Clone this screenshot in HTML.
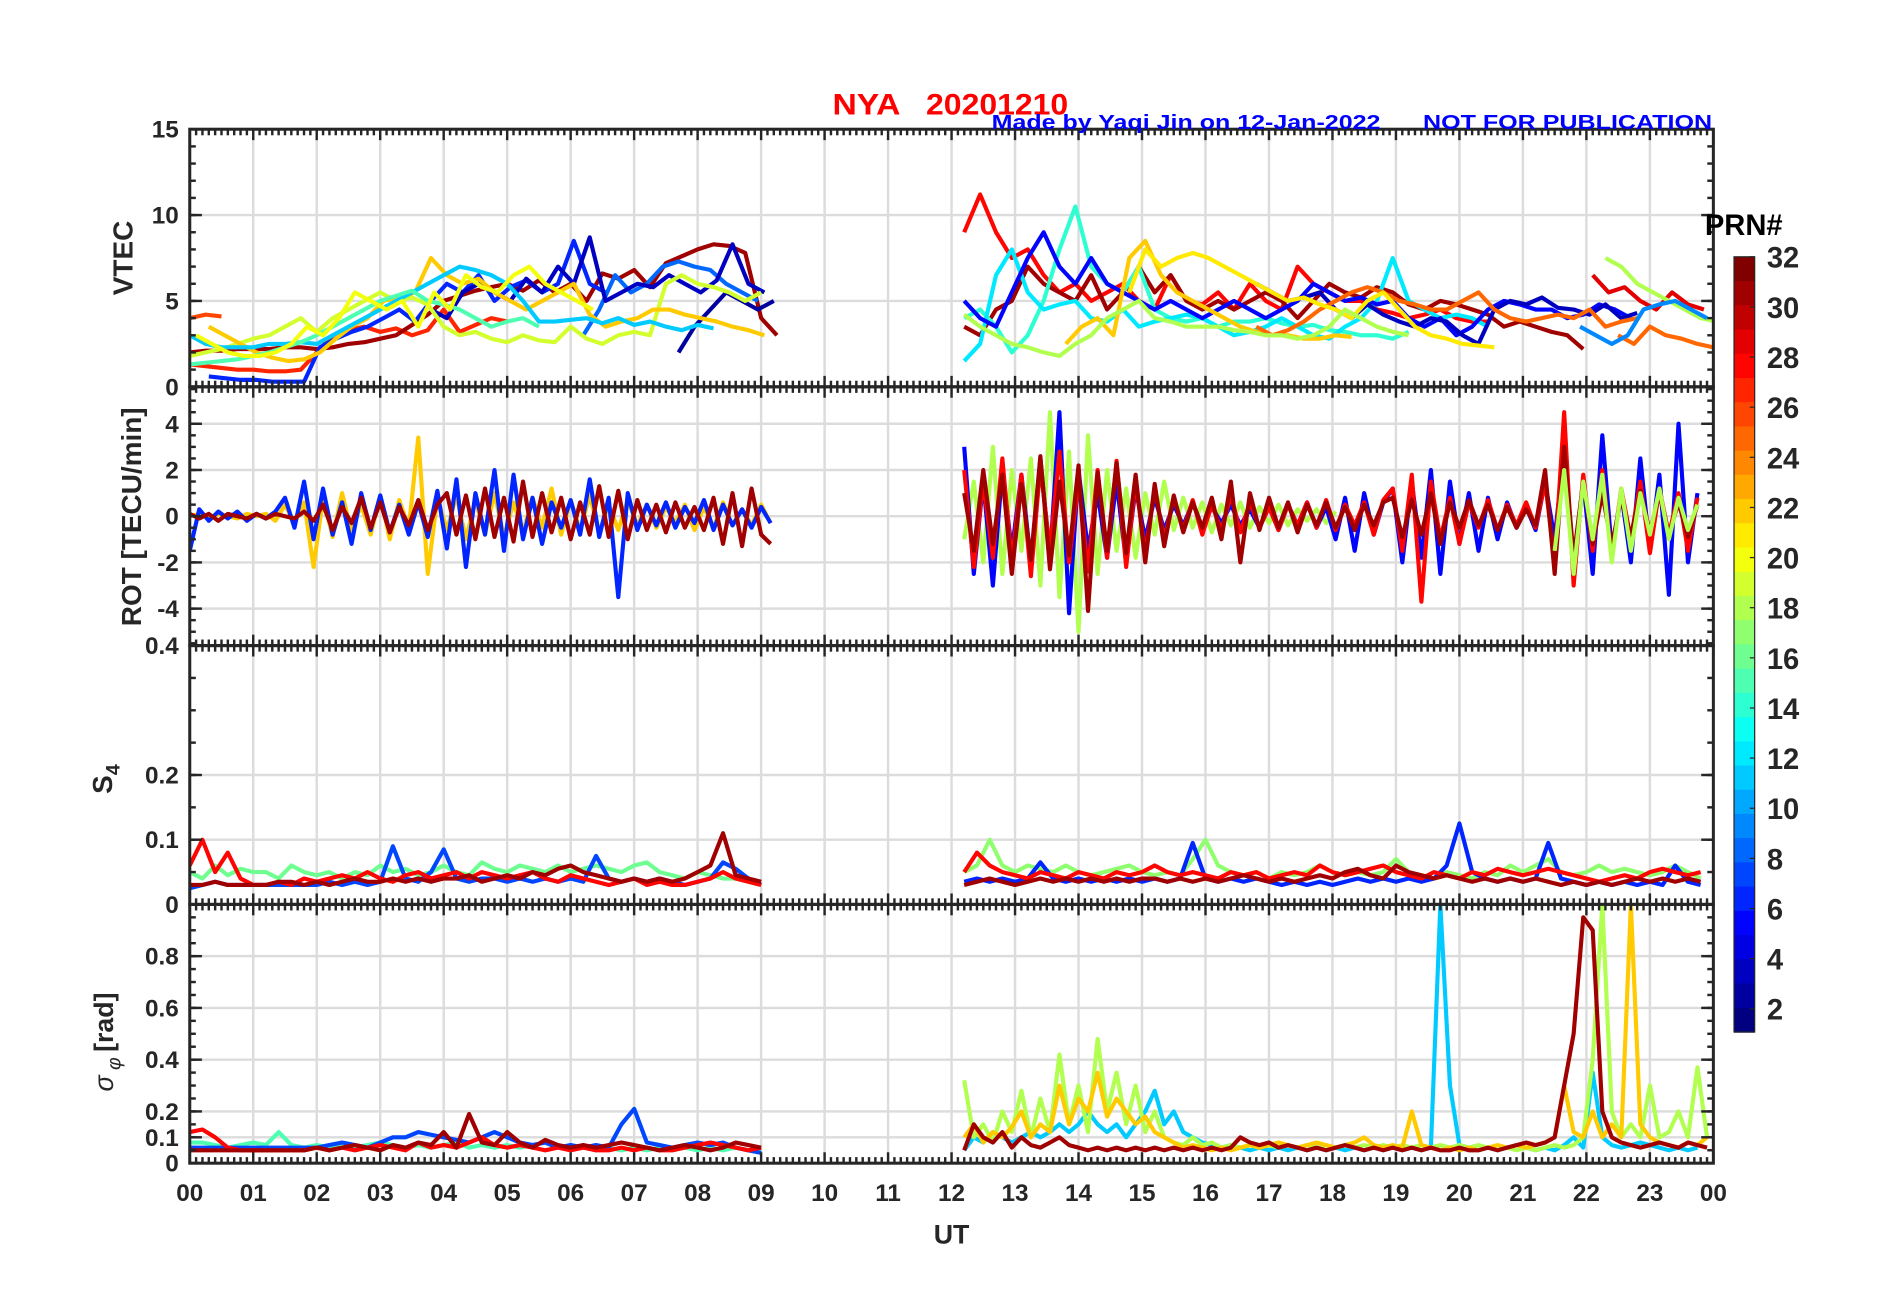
<!DOCTYPE html>
<html><head><meta charset="utf-8"><style>
html,body{margin:0;padding:0;background:#fff;}
svg{display:block;font-family:"Liberation Sans",Arial,sans-serif;font-weight:bold;}
</style></head><body>
<svg id="chart" width="1902" height="1292" xmlns="http://www.w3.org/2000/svg">
<g id="root" transform="translate(-1,-2) scale(1.215)"></g>
</svg>
<script>
// ---------- DATA ----------
const hourTicks = ["00","01","02","03","04","05","06","07","08","09","10","11","12","13","14","15","16","17","18","19","20","21","22","23","00"];
const cbarTicks = [2,4,6,8,10,12,14,16,18,20,22,24,26,28,30,32];
// VTEC series: prn, start hour, step hour, values
const vtecPrn   = [27,26,31,6,8,3,2,19,22,11,15,20, 28,31,29,14,12,5,3,22,25,25,21,18,18,9];
const vtecStart = [0,0,0,0.3,6.2,3.8,7.7,0,0.3,0,0,0.1, 12.2,12.2,22.1,12.2,12.2,12.2,16.8,13.8,16.8,22.5,14.8,12.2,22.3,21.9];
const vtecStep  = 0.25;
const vtecValues = [
 [1.3,1.2,1.1,1.0,1.0,0.9,0.9,1.0,2.0,3.0,3.3,3.5,3.2,3.4,3.0,3.3,4.5,3.2,3.6,4.0,3.8],
 [4.0,4.2,4.1],
 [2.0,2.1,2.1,2.2,2.2,2.2,2.3,2.3,2.2,2.3,2.5,2.6,2.8,3.0,3.6,4.2,5.0,5.3,5.6,5.8,6.0,5.6,6.2,5.5,6.0,5.0,6.6,6.3,6.8,5.8,7.2,7.6,8.0,8.3,8.2,7.8,4.0,3.0],
 [0.6,0.5,0.4,0.4,0.3,0.3,0.3,2.3,2.8,3.2,3.5,4.0,4.5,3.8,5.0,6.0,5.5,6.5,5.0,5.8,6.2,5.5,6.0,8.5,6.0,5.5],
 [3.0,4.5,6.5,5.5,6.0,7.0,7.3,7.0,6.8,6.0,5.5,5.0],
 [4.5,4.0,5.5,6.0,5.5,5.0,6.3,5.5,7.0,6.0,8.7,5.0,5.5,6.0,5.8,6.5,6.0,5.5,6.2,8.3,6.0,5.5],
 [2.0,3.5,4.5,5.5,5.0,4.5,5.0],
 [1.8,2.0,2.2,2.5,2.8,3.0,3.5,4.0,3.2,4.0,4.5,5.0,5.5,5.0,5.2,4.8,3.5,3.0,3.2,2.8,2.6,3.0,2.7,2.6,3.5,2.8,2.5,3.0,3.2,3.0,6.0,6.5,6.0,5.8,5.5,5.0,5.5],
 [3.5,3.0,2.5,2.0,1.7,1.5,1.6,2.0,2.8,3.5,4.0,5.0,5.2,5.5,7.5,6.5,6.0,6.3,5.5,5.0,4.5,5.0,5.5,6.0,4.2,3.5,3.8,4.0,4.5,4.5,4.2,4.0,3.8,3.5,3.3,3.0],
 [3.0,2.5,2.3,2.3,2.3,2.5,2.5,2.6,2.5,3.0,3.5,4.0,4.5,5.0,5.5,6.0,6.5,7.0,6.8,6.5,6.0,5.0,3.8,3.8,3.9,4.0,3.7,4.0,3.6,3.8,3.5,3.3,3.6,3.4],
 [1.3,1.4,1.5,1.6,1.8,2.0,2.3,2.6,3.0,3.5,4.0,4.5,5.0,5.3,5.6,5.0,4.8,4.5,4.0,3.5,3.8,4.0,3.5],
 [3.0,2.5,2.0,1.8,1.8,2.0,2.5,3.5,3.0,4.0,5.5,5.0,4.5,5.0,3.5,5.5,4.5,6.5,5.8,5.5,6.5,7.0,6.0,5.5,5.0,4.5],
 [9.0,11.2,9.0,7.5,8.0,6.5,5.5,6.0,5.0,5.5,6.0,5.0,4.5,6.5,5.0,4.8,5.5,4.5,6.0,5.0,4.5,7.0,6.0,5.5,5.0,5.0,4.5,4.3,4.0,4.2,4.5,4.0,3.8,3.8],
 [3.5,3.0,4.5,5.0,7.0,6.0,5.5,5.0,6.5,4.5,5.5,7.0,5.5,6.5,5.0,4.5,5.0,4.5,5.0,5.5,5.0,4.0,5.0,6.0,5.5,5.2,5.8,5.5,4.8,4.5,5.0,4.8,4.5,4.2,3.5,3.8,3.5,3.2,3.0,2.2],
 [6.5,5.5,5.8,5.0,4.5,5.5,4.8,4.5],
 [4.0,4.5,3.5,2.0,3.0,5.0,8.0,10.5,7.0,6.0,5.5,7.0,4.5,4.0,3.8,4.0,3.5,3.8,3.8,4.0,3.7,3.5,3.6,3.3,3.2,3.0,3.0,2.8,3.2],
 [1.5,2.5,6.5,8.0,5.5,4.5,4.8,5.0,4.0,3.8,4.5,3.5,3.8,4.0,4.2,4.0,3.5,3.0,3.2,3.5,4.0,3.5,3.0,2.8,3.5,4.0,5.0,7.5,5.0,4.5,4.0,4.2,4.0,3.5],
 [5.0,4.0,3.5,5.5,7.5,9.0,7.0,6.0,7.5,6.0,5.5,5.0,4.5,5.0,4.5,4.0,4.5,5.0,4.5,4.0,4.5,5.0,6.0,5.5,5.0,5.2,4.8,5.0,4.0,3.5,4.0,3.0,3.5,4.5,5.0,4.8,4.5,4.5,4.0,4.2,4.8,4.5,4.0],
 [6.0,5.5,5.0,5.2,5.5,4.5,4.0,4.8,4.2,3.8,3.5,4.0,3.8,3.0,2.5,4.5,5.0,4.8,5.2,4.6,4.5,4.2,4.8,4.0,4.3],
 [2.5,3.5,4.0,3.0,7.5,8.5,6.5,5.5,5.0,4.5,4.0,3.5,3.2,3.0,3.0,2.8,2.8,3.0,2.9],
 [3.5,3.0,3.3,3.8,4.5,5.0,5.5,5.8,5.5,5.0,4.8,4.5,4.5,5.0,5.5,4.5,4.0,3.8,4.0,4.2,4.0,4.5,3.5,3.8,4.0],
 [3.0,2.5,3.5,3.0,2.8,2.5,2.3,2.5],
 [5.5,8.0,7.0,7.5,7.8,7.5,7.0,6.5,6.0,5.5,5.0,5.2,4.8,4.5,4.0,5.0,5.5,4.5,3.5,3.0,2.8,2.5,2.4,2.3],
 [4.2,3.5,3.0,2.5,2.3,2.0,1.8,2.5,3.0,4.0,4.5,5.0,4.0,3.8,3.5,3.5,3.5,3.3,3.2,3.0,3.0,2.8,3.0,3.5,4.5,4.0,3.5,3.2,3.0],
 [7.5,7.0,6.0,5.5,5.0,4.5,4.0,3.8],
 [3.5,3.0,2.5,3.0,4.5,4.8,5.0,4.5,4.0]
];
// ROT series
const rotPrn   = [22,6,31, 18,5,28,31,18];
const rotStart = [0,0,0, 12.2,12.2,12.2,12.2,21.5];
const rotStep  = 0.15;
const rotValues = [
 [0,0.1,-0.1,0.1,0,-0.1,0.1,0,0.1,-0.2,0.5,-0.3,0.6,-2.2,0.8,-0.9,1.0,-0.7,0.5,-0.8,0.9,-1.0,0.7,-0.5,3.4,-2.5,0.8,-0.6,0.9,-1.0,0.7,-0.8,1.0,-0.9,0.6,-0.7,0.8,-0.5,1.2,-0.8,0.7,-0.6,0.9,-0.7,0.5,-0.6,0.7,-0.4,0.5,-0.5,0.4,-0.3,0.5,-0.6,0.4,-0.5,0.6,-0.4,0.3,-0.4,0.5,-0.3],
 [-1.5,0.3,-0.2,0.2,-0.1,0.2,-0.2,0.1,-0.1,0.2,0.8,-0.5,1.5,-1.0,1.2,-0.8,0.6,-1.2,1.0,-0.6,0.9,-0.7,0.5,-0.8,0.6,-0.9,1.1,-1.4,1.6,-2.2,1.0,-0.8,2.0,-1.5,1.8,-1.0,0.8,-1.2,0.6,-0.5,0.7,-0.8,1.6,-0.9,0.8,-3.5,1.0,-0.6,0.5,-0.4,0.6,-0.5,0.4,-0.3,0.7,-0.6,0.5,-0.4,0.3,-0.5,0.4,-0.3],
 [0.1,-0.1,0.1,-0.2,0.1,0,-0.1,0.1,-0.1,0.1,0,-0.1,0.2,-0.2,0.5,-0.6,0.4,-0.3,0.8,-0.5,0.6,-0.7,0.4,-0.4,0.7,-0.6,0.5,1.0,-0.8,0.9,-1.0,1.2,-0.9,0.8,-1.1,1.5,-0.9,1.0,-0.7,0.8,-1.0,0.6,-0.8,1.3,-0.9,1.1,-1.0,0.7,-0.6,0.5,-0.7,0.6,-0.5,0.4,-0.6,0.8,-1.2,1.0,-1.3,1.2,-0.8,-1.2],
 [-1.0,1.5,-2.0,3.0,-2.5,2.0,-1.5,2.5,-3.0,4.5,-3.5,2.8,-5.0,3.5,-2.5,2.0,-1.5,1.2,-1.8,1.0,-0.8,1.5,-0.6,0.8,-0.5,0.6,-0.7,0.5,-0.4,0.6,-0.5,0.4,-0.3,0.5,-0.4,0.3,-0.2,0.3,-0.3,0.2],
 [3.0,-2.5,1.5,-3.0,2.0,-1.5,1.8,-2.0,2.5,-1.8,4.5,-4.2,2.0,-1.5,1.0,-1.8,1.5,-2.0,1.2,-1.0,0.8,-0.6,0.5,-0.4,0.6,-0.5,0.4,-0.3,0.5,-0.4,0.3,-0.5,0.4,-0.6,0.5,-0.4,0.6,-0.5,0.4,-1.0,0.8,-1.5,1.0,-0.8,0.6,1.2,-2.0,1.5,-1.8,2.0,-2.5,1.5,-1.2,1.0,-1.5,0.8,-1.0,0.6,-0.5,0.4,-0.6,1.5,-1.0,3.0,-2.0,1.5,-2.5,3.5,-1.5,1.0,-2.0,2.5,-1.5,1.8,-3.4,4.0,-2.0,1.0],
 [2.0,-2.2,1.5,-1.8,2.5,-2.0,1.8,-2.6,2.2,-1.5,2.8,-2.0,1.6,-2.4,2.0,-1.8,2.4,-2.2,1.5,-1.6,1.2,-1.0,0.8,-0.6,0.7,-0.8,0.5,-0.6,0.9,-0.7,0.6,-0.5,0.4,-0.6,0.5,-0.4,0.6,-0.5,0.7,-0.6,0.5,-0.4,0.6,-0.8,0.7,1.2,-1.5,1.8,-3.7,1.5,-1.0,0.8,-1.2,0.6,-0.5,0.7,-0.6,0.5,-0.4,0.6,-0.5,1.5,-2.0,4.5,-3.0,1.8,-1.5,2.0,-1.8,1.2,-1.0,1.5,-1.6,1.2,-0.8,1.0,-1.5,0.8],
 [1.0,-1.5,2.0,-1.2,1.8,-2.5,1.4,-1.9,2.6,-2.3,1.5,-1.7,2.2,-4.1,1.9,-1.5,2.3,-1.6,1.8,-2.0,1.4,-1.3,0.9,-0.7,0.6,-0.5,0.8,-1.0,1.5,-2.0,1.0,-0.6,0.8,-0.5,0.6,-0.7,0.5,-0.4,0.6,-0.5,0.4,-0.6,0.5,-0.4,0.6,0.8,-0.9,0.7,-0.8,1.0,-1.2,0.6,-0.5,0.7,-0.4,0.5,-0.6,0.4,-0.5,0.3,-0.4,2.0,-2.5,3.0,-1.8,1.5,-1.2,1.0,-1.3,0.8,-0.9,1.1,-0.7,1.0,-0.8,0.6,-0.9,0.5],
 [-1.5,2.0,-2.5,1.5,-1.0,1.8,-2.0,1.2,-1.5,1.0,-0.8,1.2,-1.0,0.8,-0.6,0.5]
];
// S4 series
const s4Prn   = [16,7,28,31, 17,6,28,31];
const s4Start = [0,0,0,0, 12.2,12.2,12.2,12.2];
const s4Step  = 0.2;
const s4Values = [
 [0.05,0.04,0.06,0.045,0.055,0.05,0.05,0.04,0.06,0.05,0.045,0.05,0.04,0.05,0.045,0.06,0.05,0.055,0.045,0.05,0.06,0.05,0.045,0.065,0.055,0.05,0.06,0.055,0.05,0.06,0.05,0.055,0.06,0.055,0.05,0.06,0.065,0.05,0.045,0.04,0.05,0.045,0.04,0.04,0.035,0.03],
 [0.025,0.03,0.035,0.03,0.03,0.03,0.03,0.03,0.03,0.03,0.03,0.035,0.03,0.035,0.03,0.035,0.09,0.04,0.035,0.05,0.085,0.04,0.035,0.04,0.04,0.035,0.04,0.035,0.04,0.035,0.04,0.035,0.075,0.04,0.035,0.04,0.035,0.04,0.035,0.03,0.035,0.04,0.065,0.055,0.04,0.03],
 [0.06,0.1,0.05,0.08,0.04,0.03,0.03,0.035,0.03,0.04,0.035,0.04,0.045,0.04,0.05,0.04,0.035,0.045,0.05,0.04,0.045,0.05,0.04,0.05,0.045,0.04,0.045,0.05,0.04,0.035,0.045,0.04,0.035,0.03,0.035,0.04,0.03,0.035,0.03,0.03,0.035,0.04,0.05,0.04,0.035,0.03],
 [0.03,0.03,0.035,0.03,0.03,0.03,0.03,0.035,0.035,0.03,0.035,0.03,0.035,0.04,0.035,0.035,0.04,0.035,0.04,0.035,0.04,0.04,0.045,0.035,0.04,0.045,0.04,0.05,0.045,0.055,0.06,0.05,0.045,0.04,0.035,0.04,0.035,0.04,0.035,0.04,0.05,0.06,0.11,0.045,0.04,0.035],
 [0.05,0.06,0.1,0.06,0.05,0.06,0.055,0.05,0.06,0.05,0.045,0.05,0.055,0.06,0.05,0.045,0.05,0.045,0.07,0.1,0.06,0.05,0.045,0.05,0.04,0.05,0.045,0.05,0.06,0.05,0.045,0.05,0.045,0.05,0.07,0.05,0.045,0.04,0.05,0.045,0.04,0.05,0.045,0.06,0.05,0.06,0.07,0.05,0.045,0.05,0.06,0.05,0.055,0.05,0.045,0.05,0.06,0.05,0.04],
 [0.035,0.04,0.035,0.04,0.035,0.04,0.065,0.04,0.035,0.04,0.035,0.04,0.035,0.04,0.035,0.04,0.035,0.04,0.095,0.04,0.035,0.04,0.035,0.04,0.035,0.03,0.035,0.03,0.035,0.03,0.035,0.04,0.035,0.04,0.035,0.04,0.035,0.04,0.06,0.125,0.05,0.04,0.035,0.04,0.035,0.04,0.095,0.04,0.035,0.03,0.035,0.03,0.035,0.03,0.035,0.03,0.06,0.035,0.03],
 [0.05,0.08,0.06,0.05,0.045,0.04,0.05,0.045,0.04,0.05,0.045,0.04,0.05,0.045,0.05,0.06,0.05,0.045,0.05,0.045,0.04,0.05,0.045,0.05,0.04,0.045,0.05,0.045,0.06,0.05,0.045,0.05,0.055,0.06,0.05,0.045,0.04,0.05,0.045,0.04,0.05,0.045,0.055,0.05,0.045,0.05,0.055,0.05,0.045,0.04,0.035,0.04,0.045,0.04,0.05,0.055,0.05,0.045,0.05],
 [0.03,0.035,0.04,0.035,0.03,0.035,0.04,0.035,0.04,0.035,0.04,0.035,0.04,0.035,0.04,0.04,0.035,0.04,0.035,0.04,0.035,0.04,0.045,0.04,0.035,0.04,0.035,0.04,0.045,0.04,0.05,0.055,0.045,0.04,0.06,0.05,0.045,0.04,0.045,0.04,0.035,0.04,0.035,0.04,0.035,0.04,0.035,0.03,0.035,0.03,0.035,0.03,0.035,0.04,0.035,0.04,0.035,0.04,0.035]
];
// Sigma-phi series
const sigPrn   = [15,7,28,31, 11,18,22,31];
const sigStart = [0,0,0,0, 12.2,12.2,12.2,12.2];
const sigStepMorning = 0.2;
const sigStepAfternoon = 0.15;
const sigValues = [
 [0.08,0.08,0.07,0.06,0.07,0.08,0.07,0.12,0.07,0.06,0.07,0.06,0.07,0.06,0.07,0.08,0.07,0.06,0.07,0.06,0.07,0.08,0.06,0.07,0.06,0.07,0.06,0.07,0.08,0.06,0.07,0.06,0.05,0.06,0.05,0.06,0.05,0.06,0.05,0.06,0.05,0.06,0.05,0.06,0.05,0.05],
 [0.06,0.06,0.06,0.06,0.06,0.06,0.06,0.06,0.06,0.06,0.06,0.07,0.08,0.07,0.06,0.08,0.1,0.1,0.12,0.11,0.1,0.09,0.08,0.1,0.12,0.1,0.08,0.07,0.08,0.06,0.07,0.06,0.07,0.06,0.15,0.21,0.08,0.07,0.06,0.07,0.08,0.07,0.08,0.06,0.05,0.04],
 [0.12,0.13,0.1,0.06,0.05,0.05,0.05,0.05,0.05,0.05,0.06,0.05,0.06,0.05,0.06,0.07,0.06,0.05,0.08,0.06,0.07,0.06,0.08,0.1,0.07,0.06,0.07,0.06,0.05,0.06,0.05,0.06,0.05,0.05,0.06,0.05,0.06,0.05,0.05,0.06,0.07,0.08,0.07,0.06,0.05,0.06],
 [0.05,0.05,0.05,0.05,0.05,0.05,0.05,0.05,0.05,0.05,0.06,0.05,0.06,0.07,0.06,0.05,0.07,0.06,0.08,0.07,0.12,0.06,0.19,0.08,0.07,0.12,0.08,0.06,0.09,0.07,0.06,0.07,0.06,0.07,0.08,0.07,0.06,0.05,0.06,0.07,0.06,0.05,0.06,0.08,0.07,0.06],
 [0.05,0.1,0.08,0.12,0.1,0.08,0.1,0.12,0.1,0.12,0.15,0.12,0.15,0.2,0.15,0.12,0.15,0.1,0.15,0.2,0.28,0.15,0.2,0.12,0.1,0.08,0.07,0.06,0.07,0.06,0.05,0.06,0.05,0.06,0.05,0.06,0.05,0.06,0.05,0.06,0.05,0.06,0.05,0.06,0.05,0.06,0.05,0.06,0.05,0.06,1.0,0.3,0.07,0.06,0.05,0.06,0.05,0.06,0.07,0.06,0.05,0.06,0.05,0.07,0.1,0.06,0.35,0.1,0.07,0.06,0.07,0.08,0.07,0.06,0.05,0.06,0.05,0.06],
 [0.32,0.1,0.15,0.08,0.2,0.12,0.28,0.1,0.25,0.12,0.42,0.15,0.3,0.12,0.48,0.2,0.35,0.15,0.3,0.12,0.2,0.1,0.08,0.07,0.1,0.07,0.08,0.06,0.07,0.06,0.07,0.06,0.07,0.06,0.07,0.06,0.07,0.06,0.07,0.06,0.07,0.06,0.07,0.06,0.07,0.06,0.07,0.06,0.07,0.06,0.07,0.06,0.07,0.06,0.07,0.06,0.05,0.06,0.05,0.06,0.05,0.06,0.07,0.06,0.07,0.1,0.4,1.0,0.2,0.1,0.15,0.1,0.3,0.1,0.12,0.2,0.1,0.37,0.1],
 [0.1,0.15,0.08,0.12,0.1,0.14,0.2,0.1,0.15,0.12,0.3,0.15,0.25,0.2,0.35,0.18,0.25,0.2,0.15,0.18,0.12,0.1,0.08,0.06,0.07,0.06,0.05,0.06,0.05,0.06,0.07,0.06,0.07,0.08,0.07,0.06,0.07,0.08,0.07,0.06,0.07,0.08,0.1,0.07,0.06,0.07,0.06,0.2,0.07,0.06,0.05,0.06,0.05,0.06,0.05,0.06,0.07,0.06,0.07,0.06,0.07,0.08,0.1,0.3,0.12,0.1,0.2,0.1,0.15,0.1,1.0,0.15,0.1,0.08,0.07,0.06,0.08,0.07,0.1],
 [0.05,0.15,0.1,0.08,0.12,0.06,0.1,0.07,0.06,0.08,0.1,0.07,0.06,0.05,0.06,0.05,0.06,0.05,0.06,0.05,0.06,0.05,0.06,0.05,0.06,0.05,0.06,0.05,0.06,0.1,0.08,0.07,0.08,0.06,0.07,0.06,0.05,0.06,0.05,0.06,0.07,0.06,0.05,0.06,0.05,0.06,0.05,0.06,0.05,0.06,0.05,0.05,0.06,0.05,0.05,0.06,0.05,0.06,0.07,0.08,0.07,0.08,0.1,0.3,0.5,0.95,0.9,0.2,0.1,0.08,0.07,0.06,0.07,0.08,0.07,0.06,0.08,0.07,0.06]
];

// ---------- RENDER ----------
const NS="http://www.w3.org/2000/svg";
const root=document.getElementById('root');
function mk(tag,attrs,parent){const e=document.createElementNS(NS,tag);for(const k in attrs)e.setAttribute(k,attrs[k]);(parent||root).appendChild(e);return e;}
const X0=157,X1=1411;
const xs=h=>X0+h*(X1-X0)/24;
const panels=[
 {name:'vtec',top:108,bot:320,min:0,max:15,majors:[0,5,10,15],labels:['0','5','10','15'],minorStep:1,grid:[5,10]},
 {name:'rot',top:320,bot:533,min:-5.6,max:5.6,majors:[-4,-2,0,2,4],labels:['-4','-2','0','2','4'],minorStep:0.5,grid:[-4,-2,0,2,4]},
 {name:'s4',top:533,bot:746,min:0,max:0.4,majors:[0,0.1,0.2,0.4],labels:['0','0.1','0.2','0.4'],minorStep:0.05,grid:[0.1,0.2]},
 {name:'sigma',top:746,bot:959,min:0,max:1,majors:[0,0.1,0.2,0.4,0.6,0.8],labels:['0','0.1','0.2','0.4','0.6','0.8'],minorStep:0.05,grid:[0.1,0.2,0.4,0.6,0.8]}
];
panels.forEach(p=>{p.y=v=>p.bot-(v-p.min)*(p.bot-p.top)/(p.max-p.min);});
function jet(prn){const t=(prn-1)/31;const c=x=>Math.round(255*Math.max(0,Math.min(1,x)));
 return `rgb(${c(1.5-Math.abs(4*t-3))},${c(1.5-Math.abs(4*t-2))},${c(1.5-Math.abs(4*t-1))})`;}
const defs=mk('defs',{});
panels.forEach((p,i)=>{
 const cp=mk('clipPath',{id:'cp'+i},defs);mk('rect',{x:X0,y:p.top,width:X1-X0,height:p.bot-p.top},cp);
 const g=mk('g',{});
 
 
 for(let h=1;h<24;h++) mk('line',{x1:xs(h),x2:xs(h),y1:p.top,y2:p.bot,stroke:'#dcdcdc','stroke-width':2},g);
 p.grid.forEach(v=>mk('line',{x1:X0,x2:X1,y1:p.y(v),y2:p.y(v),stroke:'#dcdcdc','stroke-width':2},g));
 p.series=mk('g',{'clip-path':`url(#cp${i})`},g);
 p.axes=g;
});
function drawSeries(p,prns,starts,step,vals,nm){
 vals.forEach((arr,k)=>{
  const st=Array.isArray(step)?step[k]:step;
  const pts=arr.map((v,j)=>xs(starts[k]+j*st).toFixed(1)+','+p.y(v).toFixed(1)).join(' ');
  const pl=mk('polyline',{points:pts,fill:'none',stroke:jet(prns[k]),'stroke-width':3.4,'stroke-linejoin':'round'},p.series);
  
  
 });
}
drawSeries(panels[0],vtecPrn,vtecStart,vtecStep,vtecValues,'vtec-line');
drawSeries(panels[1],rotPrn,rotStart,rotStep,rotValues,'rot-line');
drawSeries(panels[2],s4Prn,s4Start,s4Step,s4Values,'s4-line');
drawSeries(panels[3],sigPrn,sigStart,sigPrn.map((_,k)=>sigStart[k]<12?sigStepMorning:sigStepAfternoon),sigValues,'sigma-line');
const AX='#262626';
panels.forEach(p=>{
 const g=p.axes;
 for(let m=0;m<=240;m++){const x=xs(m/10);const L=(m%10===0)?9:5;
  mk('line',{x1:x,x2:x,y1:p.top,y2:p.top+L,stroke:AX,'stroke-width':2},g);
  mk('line',{x1:x,x2:x,y1:p.bot,y2:p.bot-L,stroke:AX,'stroke-width':2},g);}
 for(let v=p.min;v<=p.max+1e-9;v+=p.minorStep){const vv=Math.round(v/p.minorStep)*p.minorStep;if(vv<p.min-1e-9)continue;const y=p.y(vv);
  mk('line',{x1:X0,x2:X0+5,y1:y,y2:y,stroke:AX,'stroke-width':2},g);
  mk('line',{x1:X1,x2:X1-5,y1:y,y2:y,stroke:AX,'stroke-width':2},g);}
 p.majors.forEach((v,k)=>{const y=p.y(v);
  mk('line',{x1:X0,x2:X0+10,y1:y,y2:y,stroke:AX,'stroke-width':2},g);
  mk('line',{x1:X1,x2:X1-10,y1:y,y2:y,stroke:AX,'stroke-width':2},g);
  const t=mk('text',{x:X0-9,y:y+7,'text-anchor':'end','font-size':20,fill:AX},g);t.textContent=p.labels[k];
  
  });
 mk('rect',{x:X0,y:p.top,width:X1-X0,height:p.bot-p.top,fill:'none',stroke:AX,'stroke-width':2.5},g);
});
hourTicks.forEach((s,h)=>{const t=mk('text',{x:xs(h),y:990,'text-anchor':'middle','font-size':20,fill:AX});t.textContent=s;
 
 });
const CB={x:1428,w:17,top:213,bot:851};
for(let k=0;k<32;k++){const h=(CB.bot-CB.top)/32;
 const r=mk('rect',{x:CB.x,y:CB.top+k*h,width:CB.w,height:h+0.6,fill:jet(32-k)});
 
 }
mk('rect',{x:CB.x,y:CB.top,width:CB.w,height:CB.bot-CB.top,fill:'none',stroke:AX,'stroke-width':1});
cbarTicks.forEach(v=>{const y=CB.top+(32-v)*20.63;
 mk('line',{x1:CB.x+CB.w-4,x2:CB.x+CB.w,y1:y,y2:y,stroke:AX,'stroke-width':1});
 const t=mk('text',{x:1455,y:y+9,'font-size':24,fill:AX});t.textContent=v;
 
 });
</script>
<script>
(function(){const NS="http://www.w3.org/2000/svg";const root=document.getElementById('root');
function T(txt,attrs,name){const e=document.createElementNS(NS,'text');for(const k in attrs)e.setAttribute(k,attrs[k]);e.textContent=txt;root.appendChild(e);
 
 return e;}
T('NYA',{x:686,y:96,'font-size':24,fill:'#ff0000',textLength:56,lengthAdjust:'spacingAndGlyphs'},'chart-title-station');
T('20201210',{x:763,y:96,'font-size':24,fill:'#ff0000',textLength:117,lengthAdjust:'spacingAndGlyphs'},'chart-title-date');
T('Made by Yaqi Jin on 12-Jan-2022',{x:817,y:108,'font-size':17,fill:'#0000ff',textLength:320,lengthAdjust:'spacingAndGlyphs'},'author-note');
T('NOT FOR PUBLICATION',{x:1172,y:108,'font-size':17,fill:'#0000ff',textLength:238,lengthAdjust:'spacingAndGlyphs'},'publication-note');
T('PRN#',{x:1436,y:195,'text-anchor':'middle','font-size':24,fill:'#000'},'colorbar-title');
T('UT',{x:784,y:1025,'text-anchor':'middle','font-size':22,fill:'#262626'},'x-axis-title');
T('VTEC',{x:0,y:0,transform:'translate(110,214) rotate(-90)','text-anchor':'middle','font-size':23,fill:'#262626'},'vtec-y-axis-title');
T('ROT [TECU/min]',{x:0,y:0,transform:'translate(117,427) rotate(-90)','text-anchor':'middle','font-size':23,fill:'#262626'},'rot-y-axis-title');
const s4=T('S',{x:0,y:0,transform:'translate(93,655) rotate(-90)','font-size':23,fill:'#262626'},'s4-y-axis-title');
const sub=document.createElementNS(NS,'tspan');sub.setAttribute('font-size',16);sub.setAttribute('dy',6);sub.textContent='4';s4.appendChild(sub);
const sg=T('σ',{x:0,y:0,transform:'translate(94,900) rotate(-90)','font-size':22,fill:'#262626','font-style':'italic','font-weight':'normal'},'sigma-y-axis-title');
const sp=document.createElementNS(NS,'tspan');sp.setAttribute('font-size',16);sp.setAttribute('dy',6);sp.textContent=' φ ';sg.appendChild(sp);
const sr=document.createElementNS(NS,'tspan');sr.setAttribute('dy',-6);sr.setAttribute('font-style','normal');sr.setAttribute('font-weight','bold');sr.setAttribute('font-size',22);sr.textContent='[rad]';sg.appendChild(sr);
})();
</script>
</body></html>
